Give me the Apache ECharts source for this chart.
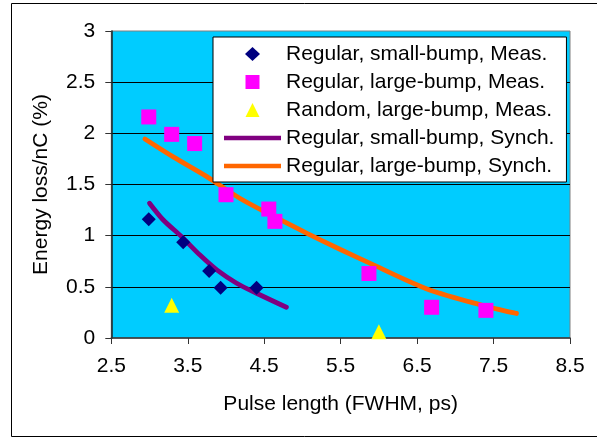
<!DOCTYPE html>
<html><head><meta charset="utf-8">
<script src="https://cdn.jsdelivr.net/npm/echarts@6/dist/echarts.min.js"></script>
<style>html,body{margin:0;padding:0;background:#fff}#c{width:597px;height:438px}</style>
</head><body><div id="c"></div>
<script>
var xTicks = [2.5, 3.5, 4.5, 5.5, 6.5, 7.5, 8.5];
var yTicks = [0, 0.5, 1, 1.5, 2, 2.5, 3];
var smallMeas = [[2.99,1.16],[3.44,0.935],[3.78,0.655],[3.93,0.49],[4.40,0.49]];
var largeMeas = [[2.99,2.16],[3.29,1.99],[3.59,1.90],[4.00,1.40],[4.56,1.26],[4.64,1.14],[5.87,0.63],[6.69,0.30],[7.40,0.27]];
var randomMeas = [[3.29,0.32],[6.00,0.06]];
var smallSynch = [[3.00,1.317],[3.18,1.153],[3.42,0.99],[3.66,0.81],[3.88,0.665],[4.14,0.535],[4.40,0.437],[4.79,0.30]];
var largeSynch = [[2.94,1.945],[3.31,1.77],[3.75,1.577],[4.18,1.366],[4.62,1.19],[5.06,1.023],[5.49,0.867],[5.93,0.714],[6.63,0.48],[7.40,0.31],[7.80,0.24]];
var names = ['Regular, small-bump, Meas.','Regular, large-bump, Meas.','Random, large-bump, Meas.','Regular, small-bump, Synch.','Regular, large-bump, Synch.'];

var FF = '"Liberation Sans", Arial, sans-serif';
var ICON_DIAMOND = 'path://M7.5,0 L15,7 L7.5,14 L0,7 Z';
var ICON_RECT = 'path://M0,0 L14,0 L14,14 L0,14 Z';
var ICON_TRI = 'path://M7,0 L14,14 L0,14 Z';
var ICON_LINE = 'path://M0,0 L57,0 L57,4.5 L0,4.5 Z';
var chart = echarts.init(document.getElementById('c'), null, {renderer:'canvas'});
chart.setOption({
  animation: false,
  textStyle: {fontFamily: FF},
  graphic: [{type:'rect', shape:{x:11.5, y:3.5, width:600, height:433}, style:{fill:'none', stroke:'#000', lineWidth:1}, z:-10}],
  grid: {left:111.3, top:31, right:27, bottom:100, show:true, backgroundColor:'#00CCFF', borderColor:'#808080', borderWidth:1},
  legend: {
    orient:'vertical', left:213, top:37, padding:[6,12,5,11],
    backgroundColor:'#fff', borderColor:'#000', borderWidth:1, borderRadius:0,
    itemWidth:57, itemHeight:14, itemGap:6, symbolKeepAspect:true,
    textStyle:{fontFamily:FF, fontSize:21, lineHeight:22, color:'#000'},
    data: [
      {name:names[0], icon:ICON_DIAMOND},
      {name:names[1], icon:ICON_RECT},
      {name:names[2], icon:ICON_TRI},
      {name:names[3], icon:ICON_LINE},
      {name:names[4], icon:ICON_LINE}
    ]
  },
  xAxis: {
    type:'value', min:xTicks[0], max:xTicks[xTicks.length-1], interval:1,
    name:'Pulse length (FWHM, ps)', nameLocation:'middle', nameGap:56,
    nameTextStyle:{fontFamily:FF, fontSize:21, color:'#000'},
    axisLine:{show:true, lineStyle:{color:'#333', width:1.5}},
    axisTick:{show:true, inside:false, length:6, lineStyle:{color:'#333'}},
    axisLabel:{fontFamily:FF, fontSize:21, color:'#000', margin:18, formatter:function(v){return v.toFixed(1);}},
    splitLine:{show:false}
  },
  yAxis: {
    type:'value', min:yTicks[0], max:yTicks[yTicks.length-1], interval:0.5,
    name:'Energy loss/nC (%)', nameLocation:'middle', nameGap:60,
    nameTextStyle:{fontFamily:FF, fontSize:21, color:'#000'},
    axisLine:{show:true, lineStyle:{color:'#222', width:1.5}},
    axisTick:{show:true, inside:false, length:6, lineStyle:{color:'#333'}},
    axisLabel:{fontFamily:FF, fontSize:21, color:'#000', margin:16},
    splitLine:{show:true, showMaxLine:false, showMinLine:false, lineStyle:{color:'#000', width:1}}
  },
  series: [
    {name:names[3], type:'line', data:smallSynch, smooth:0.3, symbol:'none', showSymbol:false, lineStyle:{color:'#800080', width:4.8, cap:'round'}, itemStyle:{color:'#800080'}, z:2},
    {name:names[4], type:'line', data:largeSynch, smooth:0.3, symbol:'none', showSymbol:false, lineStyle:{color:'#FF6600', width:4.8, cap:'round'}, itemStyle:{color:'#FF6600'}, z:2},
    {name:names[0], type:'scatter', data:smallMeas, symbol:'diamond', symbolSize:[14,14], itemStyle:{color:'#000080', opacity:1}, z:5},
    {name:names[1], type:'scatter', data:largeMeas, symbol:'rect', symbolSize:15, itemStyle:{color:'#FF00FF', opacity:1}, z:5},
    {name:names[2], type:'scatter', data:randomMeas, symbol:'triangle', symbolSize:[15,15], itemStyle:{color:'#FFFF00', opacity:1}, z:5, clip:false}
  ]
});
</script></body></html>
